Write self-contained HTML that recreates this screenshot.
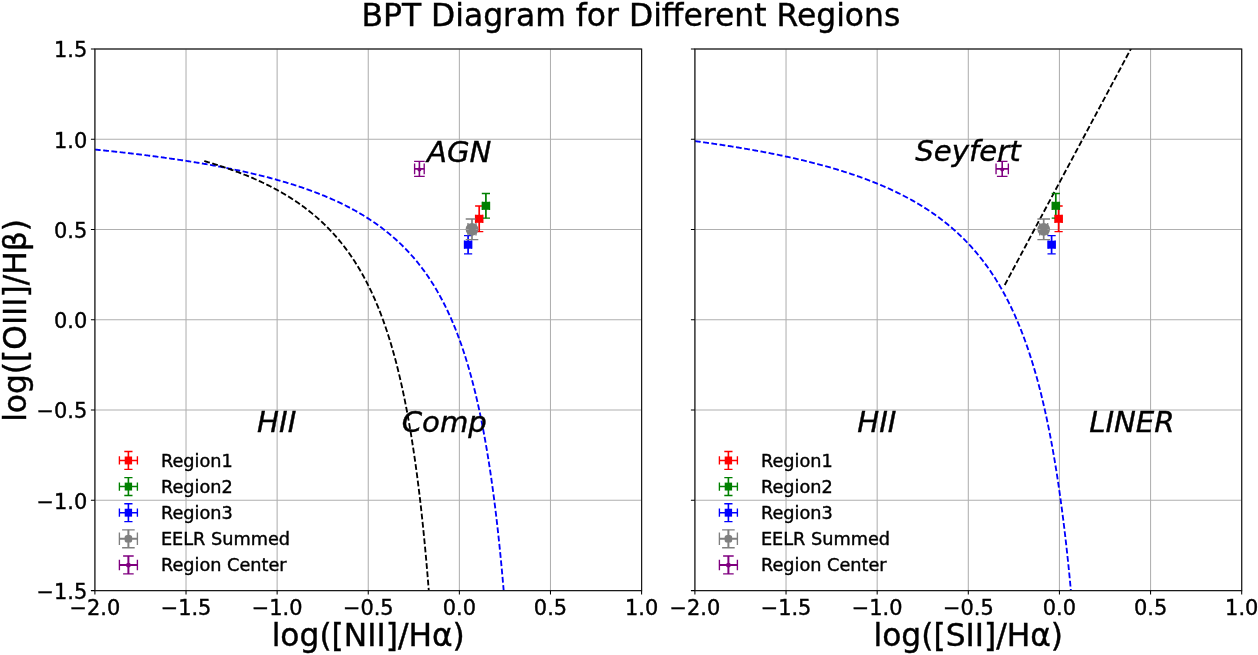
<!DOCTYPE html>
<html lang="en"><head><meta charset="utf-8"><title>BPT Diagram for Different Regions</title>
<style>html,body{margin:0;padding:0;background:#fff;}svg{display:block;}text{font-family:'DejaVu Sans','Liberation Sans',sans-serif;fill:#000;stroke:#000;stroke-width:0.4px;}</style>
</head><body>
<svg width="1258" height="655" viewBox="0 0 1258 655">
<rect x="0" y="0" width="1258" height="655" fill="#fff"/>
<defs>
<clipPath id="clip0"><rect x="94.9" y="49.0" width="546.70" height="541.60"/></clipPath>
<clipPath id="clip1"><rect x="694.9" y="49.0" width="546.80" height="541.60"/></clipPath>
</defs>
<text x="630.9" y="25.8" font-size="31.4" text-anchor="middle">BPT Diagram for Different Regions</text>
<g id="axes0">
<path d="M94.90,49.0V590.6M186.02,49.0V590.6M277.13,49.0V590.6M368.25,49.0V590.6M459.37,49.0V590.6M550.48,49.0V590.6M641.60,49.0V590.6M94.9,590.60H641.6M94.9,500.33H641.6M94.9,410.07H641.6M94.9,319.80H641.6M94.9,229.53H641.6M94.9,139.27H641.6M94.9,49.00H641.6" stroke="#b0b0b0" stroke-width="1.05" fill="none"/>
<g clip-path="url(#clip0)" fill="none" stroke-width="1.85" stroke-dasharray="5.8 2.5">
<path d="M94.90,149.55 L95.95,149.65 L97.00,149.76 L98.05,149.86 L99.10,149.97 L100.15,150.08 L101.20,150.18 L102.25,150.29 L103.30,150.40 L104.35,150.51 L105.40,150.62 L106.46,150.73 L107.51,150.84 L108.56,150.95 L109.61,151.06 L110.66,151.17 L111.71,151.28 L112.76,151.39 L113.81,151.51 L114.86,151.62 L115.91,151.73 L116.96,151.85 L118.01,151.96 L119.06,152.08 L120.11,152.20 L121.16,152.31 L122.21,152.43 L123.26,152.55 L124.31,152.67 L125.36,152.79 L126.41,152.91 L127.46,153.03 L128.51,153.15 L129.57,153.27 L130.62,153.39 L131.67,153.52 L132.72,153.64 L133.77,153.76 L134.82,153.89 L135.87,154.01 L136.92,154.14 L137.97,154.27 L139.02,154.40 L140.07,154.52 L141.12,154.65 L142.17,154.78 L143.22,154.91 L144.27,155.04 L145.32,155.18 L146.37,155.31 L147.42,155.44 L148.47,155.57 L149.52,155.71 L150.57,155.84 L151.63,155.98 L152.68,156.12 L153.73,156.25 L154.78,156.39 L155.83,156.53 L156.88,156.67 L157.93,156.81 L158.98,156.95 L160.03,157.09 L161.08,157.24 L162.13,157.38 L163.18,157.52 L164.23,157.67 L165.28,157.81 L166.33,157.96 L167.38,158.11 L168.43,158.26 L169.48,158.41 L170.53,158.56 L171.58,158.71 L172.63,158.86 L173.69,159.01 L174.74,159.16 L175.79,159.32 L176.84,159.47 L177.89,159.63 L178.94,159.79 L179.99,159.94 L181.04,160.10 L182.09,160.26 L183.14,160.42 L184.19,160.58 L185.24,160.75 L186.29,160.91 L187.34,161.07 L188.39,161.24 L189.44,161.41 L190.49,161.57 L191.54,161.74 L192.59,161.91 L193.64,162.08 L194.69,162.25 L195.74,162.42 L196.80,162.60 L197.85,162.77 L198.90,162.95 L199.95,163.12 L201.00,163.30 L202.05,163.48 L203.10,163.66 L204.15,163.84 L205.20,164.02 L206.25,164.21 L207.30,164.39 L208.35,164.57 L209.40,164.76 L210.45,164.95 L211.50,165.14 L212.55,165.33 L213.60,165.52 L214.65,165.71 L215.70,165.91 L216.75,166.10 L217.80,166.30 L218.86,166.49 L219.91,166.69 L220.96,166.89 L222.01,167.10 L223.06,167.30 L224.11,167.50 L225.16,167.71 L226.21,167.91 L227.26,168.12 L228.31,168.33 L229.36,168.54 L230.41,168.75 L231.46,168.97 L232.51,169.18 L233.56,169.40 L234.61,169.62 L235.66,169.84 L236.71,170.06 L237.76,170.28 L238.81,170.51 L239.86,170.73 L240.92,170.96 L241.97,171.19 L243.02,171.42 L244.07,171.65 L245.12,171.88 L246.17,172.12 L247.22,172.35 L248.27,172.59 L249.32,172.83 L250.37,173.08 L251.42,173.32 L252.47,173.56 L253.52,173.81 L254.57,174.06 L255.62,174.31 L256.67,174.56 L257.72,174.82 L258.77,175.08 L259.82,175.33 L260.87,175.59 L261.92,175.86 L262.97,176.12 L264.03,176.39 L265.08,176.65 L266.13,176.92 L267.18,177.20 L268.23,177.47 L269.28,177.75 L270.33,178.02 L271.38,178.31 L272.43,178.59 L273.48,178.87 L274.53,179.16 L275.58,179.45 L276.63,179.74 L277.68,180.03 L278.73,180.33 L279.78,180.63 L280.83,180.93 L281.88,181.23 L282.93,181.54 L283.98,181.85 L285.03,182.16 L286.09,182.47 L287.14,182.79 L288.19,183.10 L289.24,183.43 L290.29,183.75 L291.34,184.08 L292.39,184.40 L293.44,184.74 L294.49,185.07 L295.54,185.41 L296.59,185.75 L297.64,186.09 L298.69,186.44 L299.74,186.79 L300.79,187.14 L301.84,187.49 L302.89,187.85 L303.94,188.21 L304.99,188.58 L306.04,188.94 L307.09,189.31 L308.14,189.69 L309.20,190.07 L310.25,190.45 L311.30,190.83 L312.35,191.22 L313.40,191.61 L314.45,192.00 L315.50,192.40 L316.55,192.80 L317.60,193.21 L318.65,193.62 L319.70,194.03 L320.75,194.45 L321.80,194.87 L322.85,195.30 L323.90,195.73 L324.95,196.16 L326.00,196.60 L327.05,197.04 L328.10,197.48 L329.15,197.93 L330.20,198.39 L331.26,198.85 L332.31,199.31 L333.36,199.78 L334.41,200.25 L335.46,200.73 L336.51,201.21 L337.56,201.70 L338.61,202.19 L339.66,202.69 L340.71,203.19 L341.76,203.70 L342.81,204.21 L343.86,204.73 L344.91,205.26 L345.96,205.78 L347.01,206.32 L348.06,206.86 L349.11,207.41 L350.16,207.96 L351.21,208.52 L352.26,209.08 L353.32,209.65 L354.37,210.23 L355.42,210.81 L356.47,211.40 L357.52,212.00 L358.57,212.60 L359.62,213.21 L360.67,213.83 L361.72,214.45 L362.77,215.08 L363.82,215.72 L364.87,216.37 L365.92,217.02 L366.97,217.68 L368.02,218.35 L369.07,219.03 L370.12,219.71 L371.17,220.41 L372.22,221.11 L373.27,221.82 L374.32,222.54 L375.37,223.26 L376.43,224.00 L377.48,224.75 L378.53,225.50 L379.58,226.27 L380.63,227.04 L381.68,227.83 L382.73,228.63 L383.78,229.43 L384.83,230.25 L385.88,231.07 L386.93,231.91 L387.98,232.76 L389.03,233.62 L390.08,234.49 L391.13,235.38 L392.18,236.27 L393.23,237.18 L394.28,238.10 L395.33,239.04 L396.38,239.99 L397.43,240.95 L398.49,241.92 L399.54,242.91 L400.59,243.91 L401.64,244.93 L402.69,245.97 L403.74,247.01 L404.79,248.08 L405.84,249.16 L406.89,250.26 L407.94,251.37 L408.99,252.50 L410.04,253.65 L411.09,254.81 L412.14,256.00 L413.19,257.20 L414.24,258.42 L415.29,259.67 L416.34,260.93 L417.39,262.21 L418.44,263.52 L419.49,264.85 L420.55,266.20 L421.60,267.57 L422.65,268.96 L423.70,270.38 L424.75,271.83 L425.80,273.30 L426.85,274.79 L427.90,276.32 L428.95,277.87 L430.00,279.45 L431.05,281.06 L432.10,282.69 L433.15,284.36 L434.20,286.06 L435.25,287.80 L436.30,289.56 L437.35,291.37 L438.40,293.20 L439.45,295.07 L440.50,296.99 L441.55,298.94 L442.60,300.92 L443.66,302.96 L444.71,305.03 L445.76,307.15 L446.81,309.31 L447.86,311.52 L448.91,313.78 L449.96,316.08 L451.01,318.44 L452.06,320.85 L453.11,323.32 L454.16,325.85 L455.21,328.43 L456.26,331.08 L457.31,333.78 L458.36,336.56 L459.41,339.40 L460.46,342.31 L461.51,345.30 L462.56,348.36 L463.61,351.50 L464.66,354.72 L465.72,358.03 L466.77,361.43 L467.82,364.92 L468.87,368.51 L469.92,372.19 L470.97,375.98 L472.02,379.88 L473.07,383.90 L474.12,388.03 L475.17,392.29 L476.22,396.67 L477.27,401.20 L478.32,405.86 L479.37,410.68 L480.42,415.65 L481.47,420.79 L482.52,426.09 L483.57,431.58 L484.62,437.27 L485.67,443.15 L486.72,449.24 L487.77,455.56 L488.83,462.11 L489.88,468.92 L490.93,475.99 L491.98,483.33 L493.03,490.98 L494.08,498.94 L495.13,507.24 L496.18,515.89 L497.23,524.92 L498.28,534.36 L499.33,544.23 L500.38,554.57 L501.43,565.41 L502.48,576.78 L503.53,588.73 L504.58,601.29 L505.63,614.53 L506.68,628.50 L507.73,643.25 L508.78,658.85 L509.83,675.39 L510.89,692.95 L511.94,711.62 L512.99,731.52 L514.04,752.76" stroke="#0000ff"/>
<path d="M204.24,161.06 L204.83,161.23 L205.43,161.40 L206.02,161.57 L206.61,161.74 L207.21,161.92 L207.80,162.09 L208.40,162.27 L208.99,162.45 L209.58,162.62 L210.18,162.80 L210.77,162.98 L211.36,163.16 L211.96,163.34 L212.55,163.52 L213.15,163.70 L213.74,163.89 L214.33,164.07 L214.93,164.26 L215.52,164.44 L216.11,164.63 L216.71,164.82 L217.30,165.00 L217.90,165.19 L218.49,165.38 L219.08,165.58 L219.68,165.77 L220.27,165.96 L220.86,166.15 L221.46,166.35 L222.05,166.54 L222.65,166.74 L223.24,166.94 L223.83,167.14 L224.43,167.34 L225.02,167.54 L225.61,167.74 L226.21,167.94 L226.80,168.15 L227.40,168.35 L227.99,168.56 L228.58,168.76 L229.18,168.97 L229.77,169.18 L230.36,169.39 L230.96,169.60 L231.55,169.81 L232.15,170.02 L232.74,170.24 L233.33,170.45 L233.93,170.67 L234.52,170.89 L235.11,171.10 L235.71,171.32 L236.30,171.54 L236.90,171.76 L237.49,171.99 L238.08,172.21 L238.68,172.44 L239.27,172.66 L239.86,172.89 L240.46,173.12 L241.05,173.35 L241.65,173.58 L242.24,173.81 L242.83,174.05 L243.43,174.28 L244.02,174.52 L244.61,174.75 L245.21,174.99 L245.80,175.23 L246.40,175.47 L246.99,175.71 L247.58,175.96 L248.18,176.20 L248.77,176.45 L249.36,176.70 L249.96,176.94 L250.55,177.20 L251.15,177.45 L251.74,177.70 L252.33,177.95 L252.93,178.21 L253.52,178.47 L254.11,178.73 L254.71,178.99 L255.30,179.25 L255.90,179.51 L256.49,179.77 L257.08,180.04 L257.68,180.31 L258.27,180.58 L258.86,180.85 L259.46,181.12 L260.05,181.39 L260.65,181.67 L261.24,181.94 L261.83,182.22 L262.43,182.50 L263.02,182.78 L263.61,183.07 L264.21,183.35 L264.80,183.64 L265.40,183.93 L265.99,184.22 L266.58,184.51 L267.18,184.80 L267.77,185.10 L268.36,185.39 L268.96,185.69 L269.55,185.99 L270.15,186.29 L270.74,186.60 L271.33,186.90 L271.93,187.21 L272.52,187.52 L273.11,187.83 L273.71,188.14 L274.30,188.46 L274.90,188.78 L275.49,189.09 L276.08,189.42 L276.68,189.74 L277.27,190.06 L277.86,190.39 L278.46,190.72 L279.05,191.05 L279.65,191.38 L280.24,191.72 L280.83,192.06 L281.43,192.40 L282.02,192.74 L282.61,193.08 L283.21,193.43 L283.80,193.77 L284.40,194.13 L284.99,194.48 L285.58,194.83 L286.18,195.19 L286.77,195.55 L287.36,195.91 L287.96,196.28 L288.55,196.64 L289.15,197.01 L289.74,197.38 L290.33,197.76 L290.93,198.14 L291.52,198.51 L292.11,198.90 L292.71,199.28 L293.30,199.67 L293.90,200.06 L294.49,200.45 L295.08,200.84 L295.68,201.24 L296.27,201.64 L296.86,202.05 L297.46,202.45 L298.05,202.86 L298.65,203.27 L299.24,203.69 L299.83,204.10 L300.43,204.53 L301.02,204.95 L301.61,205.37 L302.21,205.80 L302.80,206.24 L303.40,206.67 L303.99,207.11 L304.58,207.55 L305.18,208.00 L305.77,208.45 L306.36,208.90 L306.96,209.35 L307.55,209.81 L308.14,210.27 L308.74,210.74 L309.33,211.21 L309.93,211.68 L310.52,212.16 L311.11,212.64 L311.71,213.12 L312.30,213.61 L312.89,214.10 L313.49,214.59 L314.08,215.09 L314.68,215.59 L315.27,216.09 L315.86,216.60 L316.46,217.12 L317.05,217.64 L317.64,218.16 L318.24,218.68 L318.83,219.21 L319.43,219.75 L320.02,220.29 L320.61,220.83 L321.21,221.38 L321.80,221.93 L322.39,222.48 L322.99,223.04 L323.58,223.61 L324.18,224.18 L324.77,224.75 L325.36,225.33 L325.96,225.92 L326.55,226.51 L327.14,227.10 L327.74,227.70 L328.33,228.30 L328.93,228.91 L329.52,229.53 L330.11,230.15 L330.71,230.77 L331.30,231.40 L331.89,232.04 L332.49,232.68 L333.08,233.33 L333.68,233.98 L334.27,234.64 L334.86,235.30 L335.46,235.97 L336.05,236.65 L336.64,237.33 L337.24,238.02 L337.83,238.72 L338.43,239.42 L339.02,240.13 L339.61,240.84 L340.21,241.56 L340.80,242.29 L341.39,243.02 L341.99,243.76 L342.58,244.51 L343.18,245.27 L343.77,246.03 L344.36,246.80 L344.96,247.58 L345.55,248.36 L346.14,249.15 L346.74,249.95 L347.33,250.76 L347.93,251.58 L348.52,252.40 L349.11,253.23 L349.71,254.07 L350.30,254.92 L350.89,255.78 L351.49,256.65 L352.08,257.52 L352.68,258.41 L353.27,259.30 L353.86,260.20 L354.46,261.11 L355.05,262.03 L355.64,262.97 L356.24,263.91 L356.83,264.86 L357.43,265.82 L358.02,266.79 L358.61,267.77 L359.21,268.76 L359.80,269.77 L360.39,270.78 L360.99,271.81 L361.58,272.84 L362.18,273.89 L362.77,274.95 L363.36,276.03 L363.96,277.11 L364.55,278.21 L365.14,279.32 L365.74,280.44 L366.33,281.57 L366.93,282.72 L367.52,283.89 L368.11,285.06 L368.71,286.25 L369.30,287.46 L369.89,288.67 L370.49,289.91 L371.08,291.16 L371.68,292.42 L372.27,293.70 L372.86,294.99 L373.46,296.31 L374.05,297.63 L374.64,298.98 L375.24,300.34 L375.83,301.72 L376.43,303.12 L377.02,304.53 L377.61,305.97 L378.21,307.42 L378.80,308.89 L379.39,310.38 L379.99,311.89 L380.58,313.43 L381.18,314.98 L381.77,316.55 L382.36,318.15 L382.96,319.77 L383.55,321.41 L384.14,323.07 L384.74,324.76 L385.33,326.47 L385.93,328.20 L386.52,329.97 L387.11,331.75 L387.71,333.57 L388.30,335.41 L388.89,337.27 L389.49,339.17 L390.08,341.09 L390.68,343.05 L391.27,345.03 L391.86,347.04 L392.46,349.09 L393.05,351.17 L393.64,353.28 L394.24,355.42 L394.83,357.60 L395.43,359.82 L396.02,362.07 L396.61,364.36 L397.21,366.68 L397.80,369.05 L398.39,371.45 L398.99,373.90 L399.58,376.39 L400.18,378.92 L400.77,381.50 L401.36,384.12 L401.96,386.79 L402.55,389.51 L403.14,392.27 L403.74,395.09 L404.33,397.96 L404.93,400.88 L405.52,403.86 L406.11,406.89 L406.71,409.99 L407.30,413.14 L407.89,416.35 L408.49,419.63 L409.08,422.98 L409.67,426.39 L410.27,429.87 L410.86,433.42 L411.46,437.05 L412.05,440.75 L412.64,444.53 L413.24,448.40 L413.83,452.34 L414.42,456.38 L415.02,460.50 L415.61,464.72 L416.21,469.03 L416.80,473.44 L417.39,477.95 L417.99,482.57 L418.58,487.30 L419.17,492.15 L419.77,497.11 L420.36,502.19 L420.96,507.40 L421.55,512.75 L422.14,518.23 L422.74,523.85 L423.33,529.62 L423.92,535.54 L424.52,541.63 L425.11,547.88 L425.71,554.30 L426.30,560.91 L426.89,567.70 L427.49,574.69 L428.08,581.88 L428.67,589.29 L429.27,596.93 L429.86,604.80 L430.46,612.91 L431.05,621.29 L431.64,629.93 L432.24,638.86 L432.83,648.08 L433.42,657.61 L434.02,667.48 L434.61,677.69 L435.21,688.26 L435.80,699.22 L436.39,710.59 L436.99,722.38 L437.58,734.63 L438.17,747.35 L438.77,760.59 L439.36,774.36 L439.96,788.71 L440.55,803.67 L441.14,819.28" stroke="#000"/>
</g>
<g stroke="#ff0000" fill="none"><path d="M475.60,218.80H482.80M479.20,205.95V231.65" stroke-width="1.7"/><path d="M475.10,205.95h8.20M475.10,231.65h8.20M475.60,214.70v8.20M482.80,214.70v8.20" stroke-width="1.35"/></g>
<g stroke="#008000" fill="none"><path d="M482.30,205.80H489.50M485.90,193.45V218.15" stroke-width="1.7"/><path d="M481.80,193.45h8.20M481.80,218.15h8.20M482.30,201.70v8.20M489.50,201.70v8.20" stroke-width="1.35"/></g>
<g stroke="#0000ff" fill="none"><path d="M464.50,244.70H471.70M468.10,235.55V253.85" stroke-width="1.7"/><path d="M464.00,235.55h8.20M464.00,253.85h8.20M464.50,240.60v8.20M471.70,240.60v8.20" stroke-width="1.35"/></g>
<g stroke="#808080" fill="none"><path d="M468.00,229.30H476.00M472.00,219.00V239.60" stroke-width="1.7"/><path d="M465.70,219.00h12.60M465.70,239.60h12.60M468.00,223.00v12.60M476.00,223.00v12.60" stroke-width="1.35"/></g>
<g stroke="#800080" fill="none"><path d="M414.60,168.90H424.20M419.40,161.40V176.40" stroke-width="1.6"/><path d="M414.10,161.40h10.60M414.10,176.40h10.60M414.60,163.60v10.60M424.20,163.60v10.60" stroke-width="1.35"/></g>
<rect x="475.45" y="214.80" width="7.5" height="8.0" fill="#ff0000"/>
<rect x="482.15" y="201.80" width="7.5" height="8.0" fill="#008000"/>
<rect x="464.35" y="240.70" width="7.5" height="8.0" fill="#0000ff"/>
<circle cx="472.00" cy="229.30" r="6.35" fill="#808080"/>
<path d="M466.00,229.53h2.6M475.80,229.53h1.8" stroke="#a6a6a6" stroke-width="0.8" fill="none"/>
<circle cx="419.40" cy="169.60" r="2.00" fill="#800080"/>
<rect x="94.9" y="49.0" width="546.70" height="541.60" fill="none" stroke="#1a1a1a" stroke-width="1.2"/>
<path d="M94.90,590.6v3.8M186.02,590.6v3.8M277.13,590.6v3.8M368.25,590.6v3.8M459.37,590.6v3.8M550.48,590.6v3.8M641.60,590.6v3.8M94.9,590.60h-4.0M94.9,500.33h-4.0M94.9,410.07h-4.0M94.9,319.80h-4.0M94.9,229.53h-4.0M94.9,139.27h-4.0M94.9,49.00h-4.0" stroke="#000" stroke-width="1.05" fill="none"/>
<text transform="translate(94.90,615.0)" font-size="20.9" text-anchor="middle">−2.0</text>
<text transform="translate(186.02,615.0)" font-size="20.9" text-anchor="middle">−1.5</text>
<text transform="translate(277.13,615.0)" font-size="20.9" text-anchor="middle">−1.0</text>
<text transform="translate(368.25,615.0)" font-size="20.9" text-anchor="middle">−0.5</text>
<text transform="translate(459.37,615.0)" font-size="20.9" text-anchor="middle">0.0</text>
<text transform="translate(550.48,615.0)" font-size="20.9" text-anchor="middle">0.5</text>
<text transform="translate(641.60,615.0)" font-size="20.9" text-anchor="middle">1.0</text>
<text transform="translate(87.3,598.90)" font-size="20.9" text-anchor="end">−1.5</text>
<text transform="translate(87.3,508.63)" font-size="20.9" text-anchor="end">−1.0</text>
<text transform="translate(87.3,418.37)" font-size="20.9" text-anchor="end">−0.5</text>
<text transform="translate(87.3,328.10)" font-size="20.9" text-anchor="end">0.0</text>
<text transform="translate(87.3,237.83)" font-size="20.9" text-anchor="end">0.5</text>
<text transform="translate(87.3,147.57)" font-size="20.9" text-anchor="end">1.0</text>
<text transform="translate(87.3,57.30)" font-size="20.9" text-anchor="end">1.5</text>
<text x="368.25" y="645.7" font-size="31.3" text-anchor="middle">log([NII]/Hα)</text>
<text x="459.2" y="161.6" font-size="29.2" font-style="italic" text-anchor="middle">AGN</text>
<text x="276.7" y="431.8" font-size="29.2" font-style="italic" text-anchor="middle">HII</text>
<text x="444.3" y="431.8" font-size="29.2" font-style="italic" text-anchor="middle">Comp</text>
<g stroke="#ff0000" fill="none"><path d="M119.40,460.45H137.40M128.40,451.50V469.40" stroke-width="1.6"/><path d="M124.30,451.50h8.20M124.30,469.40h8.20M119.40,456.35v8.20M137.40,456.35v8.20" stroke-width="1.35"/></g>
<rect x="124.70" y="456.50" width="7.4" height="7.9" fill="#ff0000"/>
<text x="160.90" y="466.65" font-size="17.7">Region1</text>
<g stroke="#008000" fill="none"><path d="M119.40,486.57H137.40M128.40,477.62V495.52" stroke-width="1.6"/><path d="M124.30,477.62h8.20M124.30,495.52h8.20M119.40,482.47v8.20M137.40,482.47v8.20" stroke-width="1.35"/></g>
<rect x="124.70" y="482.62" width="7.4" height="7.9" fill="#008000"/>
<text x="160.90" y="492.77" font-size="17.7">Region2</text>
<g stroke="#0000ff" fill="none"><path d="M119.40,512.69H137.40M128.40,503.74V521.64" stroke-width="1.6"/><path d="M124.30,503.74h8.20M124.30,521.64h8.20M119.40,508.59v8.20M137.40,508.59v8.20" stroke-width="1.35"/></g>
<rect x="124.70" y="508.74" width="7.4" height="7.9" fill="#0000ff"/>
<text x="160.90" y="518.89" font-size="17.7">Region3</text>
<g stroke="#808080" fill="none"><path d="M119.40,538.81H137.40M128.40,529.86V547.76" stroke-width="2.0"/><path d="M122.10,529.86h12.60M122.10,547.76h12.60M119.40,532.51v12.60M137.40,532.51v12.60" stroke-width="1.35"/></g>
<rect x="124.60" y="535.01" width="7.6" height="7.6" rx="2.6" fill="#808080"/>
<text x="160.90" y="545.01" font-size="17.7">EELR Summed</text>
<g stroke="#800080" fill="none"><path d="M119.40,564.93H137.40M128.40,555.98V573.88" stroke-width="2.0"/><path d="M123.10,555.98h10.60M123.10,573.88h10.60M119.40,559.63v10.60M137.40,559.63v10.60" stroke-width="1.35"/></g>
<circle cx="128.40" cy="565.13" r="2.40" fill="#800080"/>
<text x="160.90" y="571.13" font-size="17.7">Region Center</text>
</g>
<g id="axes1">
<path d="M694.90,49.0V590.6M786.03,49.0V590.6M877.17,49.0V590.6M968.30,49.0V590.6M1059.43,49.0V590.6M1150.57,49.0V590.6M1241.70,49.0V590.6M694.9,590.60H1241.7M694.9,500.33H1241.7M694.9,410.07H1241.7M694.9,319.80H1241.7M694.9,229.53H1241.7M694.9,139.27H1241.7M694.9,49.00H1241.7" stroke="#b0b0b0" stroke-width="1.05" fill="none"/>
<g clip-path="url(#clip1)" fill="none" stroke-width="1.85" stroke-dasharray="5.8 2.5">
<path d="M694.90,141.13 L695.86,141.26 L696.82,141.39 L697.78,141.52 L698.74,141.65 L699.70,141.78 L700.66,141.91 L701.62,142.04 L702.57,142.17 L703.53,142.30 L704.49,142.43 L705.45,142.57 L706.41,142.70 L707.37,142.84 L708.33,142.97 L709.29,143.11 L710.25,143.24 L711.21,143.38 L712.17,143.52 L713.13,143.66 L714.09,143.80 L715.05,143.94 L716.00,144.08 L716.96,144.22 L717.92,144.36 L718.88,144.50 L719.84,144.65 L720.80,144.79 L721.76,144.93 L722.72,145.08 L723.68,145.23 L724.64,145.37 L725.60,145.52 L726.56,145.67 L727.52,145.82 L728.48,145.97 L729.43,146.12 L730.39,146.27 L731.35,146.42 L732.31,146.57 L733.27,146.73 L734.23,146.88 L735.19,147.03 L736.15,147.19 L737.11,147.35 L738.07,147.50 L739.03,147.66 L739.99,147.82 L740.95,147.98 L741.91,148.14 L742.86,148.30 L743.82,148.46 L744.78,148.63 L745.74,148.79 L746.70,148.96 L747.66,149.12 L748.62,149.29 L749.58,149.46 L750.54,149.62 L751.50,149.79 L752.46,149.96 L753.42,150.13 L754.38,150.30 L755.34,150.48 L756.30,150.65 L757.25,150.83 L758.21,151.00 L759.17,151.18 L760.13,151.35 L761.09,151.53 L762.05,151.71 L763.01,151.89 L763.97,152.07 L764.93,152.25 L765.89,152.44 L766.85,152.62 L767.81,152.81 L768.77,152.99 L769.73,153.18 L770.68,153.37 L771.64,153.56 L772.60,153.75 L773.56,153.94 L774.52,154.13 L775.48,154.32 L776.44,154.52 L777.40,154.71 L778.36,154.91 L779.32,155.11 L780.28,155.31 L781.24,155.51 L782.20,155.71 L783.16,155.91 L784.11,156.12 L785.07,156.32 L786.03,156.53 L786.99,156.73 L787.95,156.94 L788.91,157.15 L789.87,157.36 L790.83,157.57 L791.79,157.79 L792.75,158.00 L793.71,158.22 L794.67,158.43 L795.63,158.65 L796.59,158.87 L797.54,159.09 L798.50,159.32 L799.46,159.54 L800.42,159.76 L801.38,159.99 L802.34,160.22 L803.30,160.45 L804.26,160.68 L805.22,160.91 L806.18,161.14 L807.14,161.38 L808.10,161.62 L809.06,161.85 L810.02,162.09 L810.98,162.33 L811.93,162.58 L812.89,162.82 L813.85,163.06 L814.81,163.31 L815.77,163.56 L816.73,163.81 L817.69,164.06 L818.65,164.31 L819.61,164.57 L820.57,164.83 L821.53,165.08 L822.49,165.34 L823.45,165.61 L824.41,165.87 L825.36,166.13 L826.32,166.40 L827.28,166.67 L828.24,166.94 L829.20,167.21 L830.16,167.48 L831.12,167.76 L832.08,168.04 L833.04,168.32 L834.00,168.60 L834.96,168.88 L835.92,169.17 L836.88,169.45 L837.84,169.74 L838.79,170.03 L839.75,170.33 L840.71,170.62 L841.67,170.92 L842.63,171.22 L843.59,171.52 L844.55,171.82 L845.51,172.13 L846.47,172.44 L847.43,172.75 L848.39,173.06 L849.35,173.37 L850.31,173.69 L851.27,174.01 L852.22,174.33 L853.18,174.65 L854.14,174.98 L855.10,175.31 L856.06,175.64 L857.02,175.97 L857.98,176.31 L858.94,176.64 L859.90,176.99 L860.86,177.33 L861.82,177.67 L862.78,178.02 L863.74,178.37 L864.70,178.73 L865.66,179.08 L866.61,179.44 L867.57,179.80 L868.53,180.17 L869.49,180.54 L870.45,180.91 L871.41,181.28 L872.37,181.65 L873.33,182.03 L874.29,182.42 L875.25,182.80 L876.21,183.19 L877.17,183.58 L878.13,183.97 L879.09,184.37 L880.04,184.77 L881.00,185.18 L881.96,185.58 L882.92,185.99 L883.88,186.41 L884.84,186.82 L885.80,187.24 L886.76,187.67 L887.72,188.10 L888.68,188.53 L889.64,188.96 L890.60,189.40 L891.56,189.84 L892.52,190.29 L893.47,190.74 L894.43,191.19 L895.39,191.65 L896.35,192.11 L897.31,192.58 L898.27,193.05 L899.23,193.52 L900.19,194.00 L901.15,194.48 L902.11,194.97 L903.07,195.46 L904.03,195.95 L904.99,196.45 L905.95,196.96 L906.90,197.47 L907.86,197.98 L908.82,198.50 L909.78,199.02 L910.74,199.55 L911.70,200.08 L912.66,200.62 L913.62,201.16 L914.58,201.71 L915.54,202.26 L916.50,202.82 L917.46,203.39 L918.42,203.96 L919.38,204.53 L920.34,205.11 L921.29,205.70 L922.25,206.29 L923.21,206.89 L924.17,207.49 L925.13,208.10 L926.09,208.72 L927.05,209.34 L928.01,209.96 L928.97,210.60 L929.93,211.24 L930.89,211.89 L931.85,212.54 L932.81,213.20 L933.77,213.87 L934.72,214.55 L935.68,215.23 L936.64,215.92 L937.60,216.61 L938.56,217.32 L939.52,218.03 L940.48,218.75 L941.44,219.48 L942.40,220.21 L943.36,220.95 L944.32,221.70 L945.28,222.46 L946.24,223.23 L947.20,224.01 L948.15,224.80 L949.11,225.59 L950.07,226.39 L951.03,227.21 L951.99,228.03 L952.95,228.86 L953.91,229.70 L954.87,230.55 L955.83,231.42 L956.79,232.29 L957.75,233.17 L958.71,234.06 L959.67,234.97 L960.63,235.88 L961.58,236.81 L962.54,237.75 L963.50,238.69 L964.46,239.66 L965.42,240.63 L966.38,241.61 L967.34,242.61 L968.30,243.62 L969.26,244.65 L970.22,245.69 L971.18,246.74 L972.14,247.80 L973.10,248.88 L974.06,249.97 L975.02,251.08 L975.97,252.20 L976.93,253.34 L977.89,254.50 L978.85,255.67 L979.81,256.85 L980.77,258.05 L981.73,259.27 L982.69,260.51 L983.65,261.77 L984.61,263.04 L985.57,264.33 L986.53,265.64 L987.49,266.97 L988.45,268.32 L989.40,269.69 L990.36,271.08 L991.32,272.49 L992.28,273.92 L993.24,275.38 L994.20,276.85 L995.16,278.35 L996.12,279.88 L997.08,281.43 L998.04,283.00 L999.00,284.60 L999.96,286.22 L1000.92,287.87 L1001.88,289.55 L1002.83,291.26 L1003.79,292.99 L1004.75,294.76 L1005.71,296.55 L1006.67,298.38 L1007.63,300.24 L1008.59,302.13 L1009.55,304.05 L1010.51,306.01 L1011.47,308.00 L1012.43,310.03 L1013.39,312.10 L1014.35,314.21 L1015.31,316.35 L1016.26,318.54 L1017.22,320.76 L1018.18,323.03 L1019.14,325.35 L1020.10,327.71 L1021.06,330.12 L1022.02,332.57 L1022.98,335.08 L1023.94,337.63 L1024.90,340.24 L1025.86,342.90 L1026.82,345.62 L1027.78,348.40 L1028.74,351.24 L1029.70,354.14 L1030.65,357.10 L1031.61,360.13 L1032.57,363.23 L1033.53,366.39 L1034.49,369.63 L1035.45,372.95 L1036.41,376.34 L1037.37,379.82 L1038.33,383.38 L1039.29,387.03 L1040.25,390.76 L1041.21,394.59 L1042.17,398.52 L1043.13,402.55 L1044.08,406.68 L1045.04,410.92 L1046.00,415.28 L1046.96,419.75 L1047.92,424.35 L1048.88,429.08 L1049.84,433.93 L1050.80,438.93 L1051.76,444.07 L1052.72,449.37 L1053.68,454.82 L1054.64,460.44 L1055.60,466.23 L1056.56,472.21 L1057.51,478.37 L1058.47,484.73 L1059.43,491.31 L1060.39,498.10 L1061.35,505.12 L1062.31,512.39 L1063.27,519.91 L1064.23,527.70 L1065.19,535.78 L1066.15,544.16 L1067.11,552.85 L1068.07,561.88 L1069.03,571.27 L1069.99,581.03 L1070.94,591.19 L1071.90,601.78 L1072.86,612.82 L1073.82,624.34 L1074.78,636.38 L1075.74,648.96 L1076.70,662.14 L1077.66,675.94" stroke="#0000ff"/>
<path d="M1004.75,284.96 L1007.73,279.39 L1010.70,273.82 L1013.68,268.24 L1016.66,262.67 L1019.63,257.10 L1022.61,251.53 L1025.58,245.96 L1028.56,240.39 L1031.54,234.82 L1034.51,229.25 L1037.49,223.68 L1040.46,218.11 L1043.44,212.54 L1046.41,206.97 L1049.39,201.40 L1052.37,195.83 L1055.34,190.25 L1058.32,184.68 L1061.29,179.11 L1064.27,173.54 L1067.24,167.97 L1070.22,162.40 L1073.20,156.83 L1076.17,151.26 L1079.15,145.69 L1082.12,140.12 L1085.10,134.55 L1088.08,128.98 L1091.05,123.41 L1094.03,117.83 L1097.00,112.26 L1099.98,106.69 L1102.95,101.12 L1105.93,95.55 L1108.91,89.98 L1111.88,84.41 L1114.86,78.84 L1117.83,73.27 L1120.81,67.70 L1123.78,62.13 L1126.76,56.56 L1129.74,50.99 L1132.71,45.42 L1135.69,39.84 L1138.66,34.27 L1141.64,28.70 L1144.62,23.13 L1147.59,17.56 L1150.57,11.99" stroke="#000"/>
</g>
<g stroke="#ff0000" fill="none"><path d="M1055.00,218.80H1062.20M1058.60,205.95V231.65" stroke-width="1.7"/><path d="M1054.50,205.95h8.20M1054.50,231.65h8.20M1055.00,214.70v8.20M1062.20,214.70v8.20" stroke-width="1.35"/></g>
<g stroke="#008000" fill="none"><path d="M1052.20,205.80H1059.40M1055.80,193.45V218.15" stroke-width="1.7"/><path d="M1051.70,193.45h8.20M1051.70,218.15h8.20M1052.20,201.70v8.20M1059.40,201.70v8.20" stroke-width="1.35"/></g>
<g stroke="#0000ff" fill="none"><path d="M1048.00,244.70H1055.20M1051.60,235.55V253.85" stroke-width="1.7"/><path d="M1047.50,235.55h8.20M1047.50,253.85h8.20M1048.00,240.60v8.20M1055.20,240.60v8.20" stroke-width="1.35"/></g>
<g stroke="#808080" fill="none"><path d="M1039.70,229.30H1047.70M1043.70,219.00V239.60" stroke-width="1.7"/><path d="M1037.40,219.00h12.60M1037.40,239.60h12.60M1039.70,223.00v12.60M1047.70,223.00v12.60" stroke-width="1.35"/></g>
<g stroke="#800080" fill="none"><path d="M996.05,168.90H1008.35M1002.20,161.40V176.40" stroke-width="1.6"/><path d="M996.90,161.40h10.60M996.90,176.40h10.60M996.05,163.60v10.60M1008.35,163.60v10.60" stroke-width="1.35"/></g>
<rect x="1054.85" y="214.80" width="7.5" height="8.0" fill="#ff0000"/>
<rect x="1052.05" y="201.80" width="7.5" height="8.0" fill="#008000"/>
<rect x="1047.85" y="240.70" width="7.5" height="8.0" fill="#0000ff"/>
<circle cx="1043.70" cy="229.30" r="6.35" fill="#808080"/>
<path d="M1037.70,229.53h2.6M1047.50,229.53h1.8" stroke="#a6a6a6" stroke-width="0.8" fill="none"/>
<circle cx="1002.20" cy="169.60" r="2.00" fill="#800080"/>
<rect x="694.9" y="49.0" width="546.80" height="541.60" fill="none" stroke="#1a1a1a" stroke-width="1.2"/>
<path d="M694.90,590.6v3.8M786.03,590.6v3.8M877.17,590.6v3.8M968.30,590.6v3.8M1059.43,590.6v3.8M1150.57,590.6v3.8M1241.70,590.6v3.8M694.9,590.60h-4.0M694.9,500.33h-4.0M694.9,410.07h-4.0M694.9,319.80h-4.0M694.9,229.53h-4.0M694.9,139.27h-4.0M694.9,49.00h-4.0" stroke="#000" stroke-width="1.05" fill="none"/>
<text transform="translate(694.90,615.0)" font-size="20.9" text-anchor="middle">−2.0</text>
<text transform="translate(786.03,615.0)" font-size="20.9" text-anchor="middle">−1.5</text>
<text transform="translate(877.17,615.0)" font-size="20.9" text-anchor="middle">−1.0</text>
<text transform="translate(968.30,615.0)" font-size="20.9" text-anchor="middle">−0.5</text>
<text transform="translate(1059.43,615.0)" font-size="20.9" text-anchor="middle">0.0</text>
<text transform="translate(1150.57,615.0)" font-size="20.9" text-anchor="middle">0.5</text>
<text transform="translate(1241.70,615.0)" font-size="20.9" text-anchor="middle">1.0</text>
<text x="968.30" y="645.7" font-size="31.3" text-anchor="middle">log([SII]/Hα)</text>
<text x="968.0" y="161.2" font-size="29.2" font-style="italic" text-anchor="middle">Seyfert</text>
<text x="876.8" y="431.7" font-size="29.2" font-style="italic" text-anchor="middle">HII</text>
<text x="1131.9" y="431.7" font-size="29.2" font-style="italic" text-anchor="middle">LINER</text>
<g stroke="#ff0000" fill="none"><path d="M719.40,460.45H737.40M728.40,451.50V469.40" stroke-width="1.6"/><path d="M724.30,451.50h8.20M724.30,469.40h8.20M719.40,456.35v8.20M737.40,456.35v8.20" stroke-width="1.35"/></g>
<rect x="724.70" y="456.50" width="7.4" height="7.9" fill="#ff0000"/>
<text x="760.90" y="466.65" font-size="17.7">Region1</text>
<g stroke="#008000" fill="none"><path d="M719.40,486.57H737.40M728.40,477.62V495.52" stroke-width="1.6"/><path d="M724.30,477.62h8.20M724.30,495.52h8.20M719.40,482.47v8.20M737.40,482.47v8.20" stroke-width="1.35"/></g>
<rect x="724.70" y="482.62" width="7.4" height="7.9" fill="#008000"/>
<text x="760.90" y="492.77" font-size="17.7">Region2</text>
<g stroke="#0000ff" fill="none"><path d="M719.40,512.69H737.40M728.40,503.74V521.64" stroke-width="1.6"/><path d="M724.30,503.74h8.20M724.30,521.64h8.20M719.40,508.59v8.20M737.40,508.59v8.20" stroke-width="1.35"/></g>
<rect x="724.70" y="508.74" width="7.4" height="7.9" fill="#0000ff"/>
<text x="760.90" y="518.89" font-size="17.7">Region3</text>
<g stroke="#808080" fill="none"><path d="M719.40,538.81H737.40M728.40,529.86V547.76" stroke-width="2.0"/><path d="M722.10,529.86h12.60M722.10,547.76h12.60M719.40,532.51v12.60M737.40,532.51v12.60" stroke-width="1.35"/></g>
<rect x="724.60" y="535.01" width="7.6" height="7.6" rx="2.6" fill="#808080"/>
<text x="760.90" y="545.01" font-size="17.7">EELR Summed</text>
<g stroke="#800080" fill="none"><path d="M719.40,564.93H737.40M728.40,555.98V573.88" stroke-width="2.0"/><path d="M723.10,555.98h10.60M723.10,573.88h10.60M719.40,559.63v10.60M737.40,559.63v10.60" stroke-width="1.35"/></g>
<circle cx="728.40" cy="565.13" r="2.40" fill="#800080"/>
<text x="760.90" y="571.13" font-size="17.7">Region Center</text>
</g>
<text transform="translate(26.1,320.4) rotate(-90)" font-size="31.3" text-anchor="middle">log([OIII]/Hβ)</text>
</svg>
</body></html>
